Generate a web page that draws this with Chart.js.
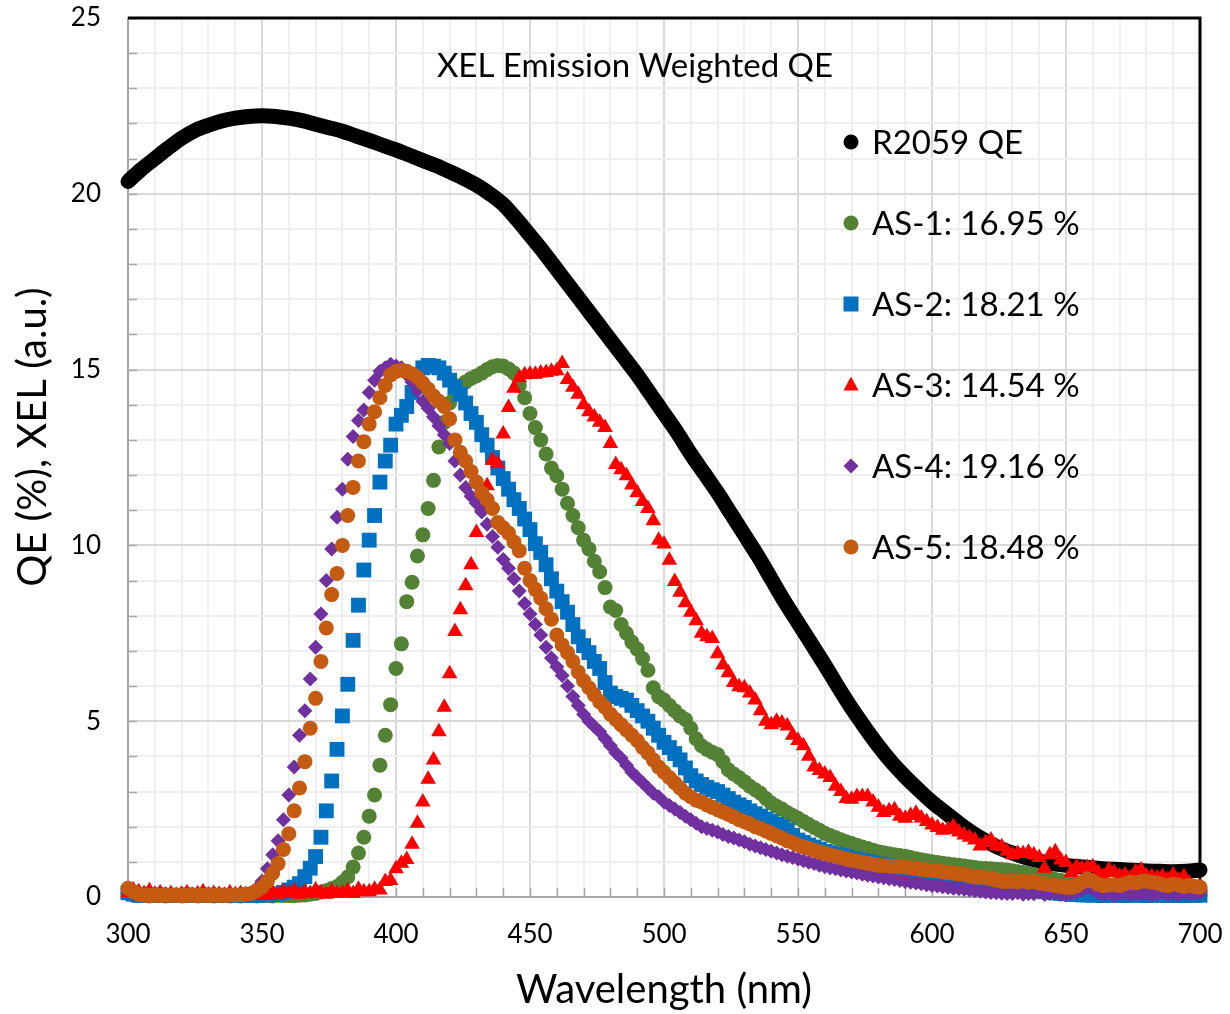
<!DOCTYPE html>
<html>
<head>
<meta charset="utf-8">
<title>XEL Emission Weighted QE</title>
<script src="https://cdn.jsdelivr.net/npm/chart.js@4.4.1/dist/chart.umd.min.js"></script>
<style>
  html, body { margin: 0; padding: 0; background: #ffffff; }
  #wrap { width: 1230px; height: 1014px; }
</style>
</head>
<body>
<div id="wrap"><canvas id="chart" width="1230" height="1014"></canvas></div>
<script>
// sampling grids (nm)
const qeWavelengths = Array.from({ length: 81 }, (_, i) => 300 + 5 * i);
const wavelengths = Array.from({ length: 201 }, (_, i) => 300 + 2 * i);

// R2059 QE (%), every 5 nm
const r2059QE = [
  20.35, 20.7, 21.0, 21.3, 21.58, 21.8, 21.95, 22.07, 22.15, 22.2,
  22.22, 22.2, 22.15, 22.08, 21.98, 21.88, 21.78, 21.65, 21.52, 21.38,
  21.25, 21.1, 20.95, 20.8, 20.63, 20.45, 20.25, 20.0, 19.7, 19.28,
  18.82, 18.35, 17.85, 17.35, 16.85, 16.35, 15.85, 15.35, 14.85, 14.3,
  13.75, 13.2, 12.6, 12.05, 11.5, 10.9, 10.3, 9.7, 9.05, 8.4,
  7.8, 7.2, 6.6, 5.97, 5.37, 4.82, 4.3, 3.83, 3.42, 3.05,
  2.7, 2.4, 2.1, 1.83, 1.6, 1.4, 1.25, 1.12, 1.02, 0.95,
  0.9, 0.86, 0.83, 0.8, 0.78, 0.76, 0.74, 0.73, 0.72, 0.73,
  0.77
];

// XEL emission (a.u.), every 2 nm, one row = 20 nm
const as1 = [
  0.1, 0.06, 0.04, 0.05, 0.03, 0.04, 0.05, 0.03, 0.04, 0.04,
  0.03, 0.05, 0.04, 0.03, 0.04, 0.05, 0.03, 0.04, 0.04, 0.03,
  0.04, 0.03, 0.05, 0.04, 0.03, 0.04, 0.04, 0.03, 0.05, 0.04,
  0.04, 0.04, 0.05, 0.06, 0.08, 0.1, 0.14, 0.18, 0.24, 0.3,
  0.42, 0.57, 0.85, 1.25, 1.7, 2.3, 2.9, 3.75, 4.6, 5.47,
  6.5, 7.2, 8.4, 8.95, 9.7, 10.3, 11.05, 11.85, 12.8, 13.5,
  14.05, 14.3, 14.55, 14.65, 14.75, 14.82, 14.9, 15.0, 15.08, 15.12,
  15.1, 15.02, 14.9, 14.55, 14.2, 13.75, 13.35, 13.0, 12.6, 12.2,
  11.98, 11.6, 11.2, 10.85, 10.5, 10.15, 9.9, 9.55, 9.25, 8.8,
  8.25, 8.15, 7.75, 7.5, 7.25, 7.05, 6.78, 6.45, 5.95, 5.7,
  5.6, 5.45, 5.3, 5.15, 5.05, 4.8, 4.5, 4.3, 4.2, 4.12,
  4.05, 3.85, 3.62, 3.5, 3.4, 3.28, 3.15, 3.05, 2.95, 2.8,
  2.67, 2.58, 2.5, 2.4, 2.32, 2.24, 2.15, 2.06, 1.98, 1.9,
  1.81, 1.75, 1.69, 1.63, 1.57, 1.52, 1.47, 1.42, 1.38, 1.33,
  1.29, 1.26, 1.23, 1.2, 1.18, 1.16, 1.12, 1.09, 1.06, 1.03,
  1.0, 0.98, 0.96, 0.94, 0.92, 0.9, 0.88, 0.86, 0.84, 0.82,
  0.81, 0.8, 0.79, 0.78, 0.77, 0.75, 0.72, 0.7, 0.67, 0.64,
  0.6, 0.57, 0.53, 0.5, 0.47, 0.44, 0.41, 0.38, 0.35, 0.32,
  0.3, 0.27, 0.25, 0.23, 0.21, 0.2, 0.18, 0.16, 0.15, 0.13,
  0.12, 0.11, 0.1, 0.09, 0.08, 0.08, 0.07, 0.06, 0.06, 0.05,
  0.05
];

const as2 = [
  0.12, 0.08, 0.05, 0.06, 0.04, 0.05, 0.06, 0.04, 0.05, 0.05,
  0.04, 0.06, 0.05, 0.04, 0.05, 0.06, 0.04, 0.05, 0.05, 0.04,
  0.05, 0.04, 0.06, 0.05, 0.05, 0.06, 0.06, 0.07, 0.09, 0.13,
  0.2, 0.28, 0.38, 0.58, 0.82, 1.15, 1.7, 2.45, 3.3, 4.2,
  5.15, 6.05, 7.3, 8.3, 9.3, 10.15, 10.85, 11.8, 12.4, 12.85,
  13.45, 13.7, 13.95, 14.35, 14.85, 15.05, 15.12, 15.1, 15.05, 14.9,
  14.7, 14.5, 14.3, 14.05, 13.75, 13.5, 13.15, 12.85, 12.5, 12.2,
  11.9, 11.6, 11.3, 11.05, 10.75, 10.45, 10.05, 9.8, 9.45, 9.05,
  8.7, 8.4, 8.1, 7.75, 7.4, 7.15, 6.95, 6.7, 6.5, 6.1,
  5.8, 5.7, 5.65, 5.6, 5.45, 5.3, 5.15, 5.0, 4.8, 4.6,
  4.4, 4.25, 4.08, 3.9, 3.67, 3.45, 3.3, 3.2, 3.12, 3.05,
  3.0, 2.9, 2.8, 2.7, 2.62, 2.55, 2.45, 2.37, 2.3, 2.22,
  2.15, 2.07, 2.0, 1.9, 1.75, 1.62, 1.55, 1.48, 1.42, 1.36,
  1.3, 1.26, 1.22, 1.18, 1.14, 1.1, 1.07, 1.04, 1.0, 0.97,
  0.94, 0.91, 0.88, 0.85, 0.82, 0.79, 0.76, 0.73, 0.7, 0.67,
  0.64, 0.61, 0.58, 0.55, 0.52, 0.49, 0.46, 0.43, 0.4, 0.38,
  0.36, 0.34, 0.32, 0.3, 0.28, 0.26, 0.24, 0.22, 0.2, 0.18,
  0.17, 0.15, 0.13, 0.12, 0.1, 0.09, 0.08, 0.07, 0.06, 0.06,
  0.05, 0.06, 0.04, 0.05, 0.06, 0.05, 0.04, 0.05, 0.06, 0.05,
  0.04, 0.05, 0.06, 0.05, 0.04, 0.05, 0.05, 0.04, 0.06, 0.05,
  0.05
];

const as3 = [
  0.12, 0.2, 0.15, 0.1, 0.18, 0.08, 0.12, 0.06, 0.1, 0.05,
  0.08, 0.12, 0.05, 0.09, 0.15, 0.06, 0.1, 0.08, 0.05, 0.12,
  0.07, 0.1, 0.05, 0.08, 0.06, 0.1, 0.05, 0.12, 0.08, 0.15,
  0.1, 0.18, 0.08, 0.14, 0.1, 0.2, 0.12, 0.08, 0.16, 0.1,
  0.12, 0.18, 0.1, 0.22, 0.15, 0.15, 0.22, 0.2, 0.44, 0.47,
  0.8, 0.96, 1.07, 1.5, 2.1, 2.7, 3.35, 3.9, 4.7, 5.4,
  6.35, 7.55, 8.17, 8.85, 9.45, 10.37, 11.1, 11.7, 12.42, 12.32,
  13.17, 13.92, 14.47, 14.77, 14.85, 14.87, 14.87, 14.9, 14.92, 14.95,
  14.97, 15.17, 14.72, 14.5, 14.3, 14.0, 13.8, 13.65, 13.5, 13.35,
  12.9, 12.3, 12.15, 11.98, 11.72, 11.5, 11.25, 11.05, 10.7, 10.15,
  10.04, 9.58, 8.97, 8.67, 8.37, 8.1, 7.86, 7.5, 7.4, 7.35,
  6.92, 6.6, 6.38, 6.1, 5.98, 5.95, 5.8, 5.6, 5.3, 5.0,
  4.9, 5.0, 4.95, 4.86, 4.6, 4.45, 4.3, 4.0, 3.7, 3.6,
  3.5, 3.4, 3.15, 3.0, 2.8, 2.78, 2.86, 2.86, 2.86, 2.7,
  2.55, 2.4, 2.45, 2.48, 2.3, 2.24, 2.32, 2.38, 2.25, 2.15,
  2.05, 1.98, 1.9, 1.92, 2.0, 1.85, 1.76, 1.7, 1.62, 1.45,
  1.55, 1.62, 1.45, 1.43, 1.3, 1.2, 1.24, 1.24, 1.27, 1.2,
  1.12, 0.82, 1.2, 1.29, 1.05, 0.98, 0.7, 0.86, 0.8, 0.84,
  0.86, 0.7, 0.58, 0.77, 0.7, 0.6, 0.63, 0.55, 0.72, 0.77,
  0.6, 0.58, 0.55, 0.58, 0.5, 0.63, 0.48, 0.58, 0.4, 0.2,
  0.3
];

const as4 = [
  0.2, 0.1, 0.06, 0.05, 0.04, 0.06, 0.05, 0.04, 0.05, 0.06,
  0.04, 0.05, 0.06, 0.04, 0.05, 0.05, 0.04, 0.06, 0.05, 0.06,
  0.07, 0.08, 0.1, 0.12, 0.25, 0.45, 0.8, 1.2, 1.6, 2.2,
  2.9, 3.7, 4.6, 5.3, 6.2, 7.1, 8.05, 9.0, 9.9, 10.8,
  11.6, 12.45, 13.1, 13.55, 13.85, 14.35, 14.7, 14.95, 15.05, 15.15,
  15.1, 15.05, 14.85, 14.65, 14.4, 14.1, 13.9, 13.65, 13.4, 13.15,
  12.9, 12.4, 12.0, 11.65, 11.4, 11.2, 10.95, 10.6, 10.25, 9.95,
  9.6, 9.35, 9.05, 8.7, 8.35, 8.05, 7.75, 7.45, 7.1, 6.8,
  6.55, 6.3, 6.0, 5.7, 5.45, 5.2, 5.0, 4.85, 4.7, 4.5,
  4.3, 4.1, 3.95, 3.75, 3.55, 3.4, 3.25, 3.1, 2.95, 2.85,
  2.7, 2.6, 2.5, 2.4, 2.3, 2.2, 2.1, 2.0, 1.95, 1.9,
  1.85, 1.78, 1.72, 1.68, 1.62, 1.57, 1.5, 1.45, 1.4, 1.35,
  1.3, 1.25, 1.2, 1.16, 1.12, 1.08, 1.03, 0.99, 0.95, 0.9,
  0.86, 0.83, 0.8, 0.77, 0.74, 0.71, 0.68, 0.65, 0.62, 0.6,
  0.57, 0.55, 0.52, 0.5, 0.47, 0.44, 0.42, 0.4, 0.38, 0.35,
  0.33, 0.31, 0.29, 0.27, 0.25, 0.24, 0.22, 0.2, 0.18, 0.16,
  0.14, 0.13, 0.12, 0.11, 0.1, 0.1, 0.12, 0.08, 0.1, 0.09,
  0.14, 0.07, 0.1, 0.12, 0.08, 0.06, 0.1, 0.15, 0.2, 0.3,
  0.22, 0.12, 0.08, 0.1, 0.06, 0.09, 0.12, 0.07, 0.1, 0.08,
  0.11, 0.06, 0.09, 0.12, 0.08, 0.1, 0.07, 0.13, 0.09, 0.1,
  0.12
];

const as5 = [
  0.25, 0.15, 0.08, 0.05, 0.04, 0.05, 0.04, 0.05, 0.04, 0.05,
  0.04, 0.05, 0.05, 0.04, 0.05, 0.04, 0.05, 0.05, 0.04, 0.05,
  0.05, 0.06, 0.08, 0.1, 0.18, 0.28, 0.45, 0.68, 0.95, 1.35,
  1.8, 2.45, 3.1, 3.85, 4.8, 5.65, 6.7, 7.65, 8.6, 9.2,
  10.0, 10.85, 11.65, 12.4, 12.95, 13.45, 13.8, 14.2, 14.55, 14.85,
  14.95, 14.98, 14.95, 14.88, 14.78, 14.62, 14.45, 14.25, 14.1, 13.95,
  13.6, 13.0, 12.65, 12.4, 12.1, 11.8, 11.5, 11.3, 11.05, 10.65,
  10.5, 10.35, 10.1, 9.85, 9.35, 9.0, 8.75, 8.5, 8.2, 7.9,
  7.45, 7.17, 6.95, 6.7, 6.4, 6.15, 5.95, 5.75, 5.55, 5.4,
  5.2, 5.05, 4.9, 4.75, 4.6, 4.45, 4.25, 4.1, 3.9, 3.7,
  3.55, 3.4, 3.25, 3.1, 2.95, 2.85, 2.75, 2.7, 2.62, 2.55,
  2.48, 2.42, 2.35, 2.28, 2.2, 2.14, 2.08, 2.0, 1.95, 1.88,
  1.81, 1.74, 1.68, 1.6, 1.55, 1.48, 1.43, 1.38, 1.33, 1.28,
  1.24, 1.2, 1.16, 1.12, 1.08, 1.05, 1.02, 0.99, 0.96, 0.93,
  0.9, 0.89, 0.88, 0.87, 0.86, 0.85, 0.83, 0.81, 0.79, 0.77,
  0.76, 0.74, 0.72, 0.7, 0.68, 0.66, 0.64, 0.6, 0.57, 0.56,
  0.55, 0.52, 0.48, 0.45, 0.44, 0.45, 0.43, 0.46, 0.42, 0.44,
  0.4, 0.38, 0.35, 0.33, 0.3, 0.28, 0.27, 0.32, 0.42, 0.52,
  0.45, 0.36, 0.32, 0.34, 0.35, 0.33, 0.38, 0.42, 0.4, 0.44,
  0.45, 0.42, 0.4, 0.35, 0.32, 0.36, 0.34, 0.3, 0.33, 0.3,
  0.28
];

const seriesLabels = ["R2059 QE", "AS-1: 16.95 %", "AS-2: 18.21 %", "AS-3: 14.54 %", "AS-4: 19.16 %", "AS-5: 18.48 %"];
const seriesColors = ["#000000", "#548235", "#0070c0", "#ff0000", "#7030a0", "#c55a11"];
const xTickLabels = [300, 350, 400, 450, 500, 550, 600, 650, 700];
const yTickLabels = [0, 5, 10, 15, 20, 25];

const FONT = "Lato, 'Open Sans', sans-serif";
const MAJOR_GRID = "#d9d9d9";
const MINOR_GRID = "#efefef";
const AXIS_GRAY = "#a6a6a6";

function toPoints(xs, ys) {
  return xs.map((x, i) => ({ x: x, y: ys[i] }));
}

function markerSet(i, style, radius) {
  return {
    label: seriesLabels[i],
    data: toPoints(wavelengths, [as1, as2, as3, as4, as5][i - 1]),
    showLine: false,
    pointStyle: style,
    pointRadius: radius,
    pointHoverRadius: radius,
    backgroundColor: seriesColors[i],
    borderColor: seriesColors[i],
    pointBorderWidth: 0,
    clip: false,
    order: 6 - i,
  };
}

// legend marker, same shape as the dataset points
function drawMarker(ctx, style, x, y, color) {
  ctx.fillStyle = color;
  ctx.beginPath();
  if (style === "rect") {
    ctx.rect(x - 7.5, y - 7.5, 15, 15);
  } else if (style === "triangle") {
    ctx.moveTo(x, y - 8.5);
    ctx.lineTo(x + 7.5, y + 5.5);
    ctx.lineTo(x - 7.5, y + 5.5);
    ctx.closePath();
  } else if (style === "rectRot") {
    ctx.moveTo(x, y - 7.5);
    ctx.lineTo(x + 7.5, y);
    ctx.lineTo(x, y + 7.5);
    ctx.lineTo(x - 7.5, y);
    ctx.closePath();
  } else {
    ctx.arc(x, y, 7.5, 0, Math.PI * 2);
  }
  ctx.fill();
}

// keep the plot box where the reference has it
function fixBox(size) {
  return (s) => {
    if (s.isHorizontal()) s.height = size; else s.width = size;
    s.paddingTop = 0;
    s.paddingBottom = 0;
    s.paddingLeft = 0;
    s.paddingRight = 0;
  };
}

const frameAndTicks = {
  id: "frameAndTicks",
  beforeDatasetsDraw(chart) {
    const { ctx, chartArea: a, scales: { x, y } } = chart;
    ctx.save();
    // short inside tick marks on the left and bottom axes
    ctx.strokeStyle = AXIS_GRAY;
    ctx.lineWidth = 1.5;
    ctx.beginPath();
    x.ticks.forEach((t) => {
      const px = Math.round(x.getPixelForValue(t.value)) + 0.5;
      ctx.moveTo(px, a.bottom);
      ctx.lineTo(px, a.bottom - 9);
    });
    y.ticks.forEach((t) => {
      const py = Math.round(y.getPixelForValue(t.value)) + 0.5;
      ctx.moveTo(a.left, py);
      ctx.lineTo(a.left + 9, py);
    });
    ctx.stroke();
    // black frame on the top and right
    ctx.strokeStyle = "#000000";
    ctx.lineWidth = 3;
    ctx.beginPath();
    ctx.moveTo(a.left, a.top);
    ctx.lineTo(a.right, a.top);
    ctx.lineTo(a.right, a.bottom);
    ctx.stroke();
    ctx.restore();
  },
  afterDraw(chart) {
    const { ctx } = chart;
    ctx.save();
    ctx.fillStyle = "#000000";
    ctx.textBaseline = "middle";

    // chart title
    ctx.font = "33px " + FONT;
    ctx.textAlign = "center";
    ctx.fillText("XEL Emission Weighted QE", 635, 66);

    // legend inside the plot
    const styles = ["circle", "circle", "rect", "triangle", "rectRot", "circle"];
    ctx.textAlign = "left";
    seriesLabels.forEach((label, i) => {
      const ly = 142 + i * 81;
      drawMarker(ctx, styles[i], 851, ly, seriesColors[i]);
      ctx.fillStyle = "#000000";
      ctx.fillText(label, 872, ly + 1);
    });

    // y axis title
    ctx.translate(33, 437);
    ctx.rotate(-Math.PI / 2);
    ctx.textAlign = "center";
    ctx.font = "40px " + FONT;
    ctx.fillText("QE (%), XEL (a.u.)", 0, 0);
    ctx.restore();
  },
};

const ctx = document.getElementById("chart").getContext("2d");
new Chart(ctx, {
  type: "scatter",
  data: {
    datasets: [
      {
        label: seriesLabels[0],
        data: toPoints(qeWavelengths, r2059QE),
        showLine: true,
        borderColor: seriesColors[0],
        backgroundColor: seriesColors[0],
        borderWidth: 15,
        borderCapStyle: "round",
        borderJoinStyle: "round",
        cubicInterpolationMode: "monotone",
        pointRadius: 0,
        clip: false,
        order: 6,
      },
      markerSet(1, "circle", 7.5),
      markerSet(2, "rect", 10.5),
      markerSet(3, "triangle", 9),
      markerSet(4, "rectRot", 7.5),
      markerSet(5, "circle", 7.5),
    ],
  },
  options: {
    responsive: false,
    animation: false,
    devicePixelRatio: 1,
    layout: { padding: { left: 0, right: 30, top: 18, bottom: 0 } },
    plugins: {
      legend: { display: false },
      tooltip: { enabled: false },
    },
    scales: {
      x: {
        type: "linear",
        min: 300,
        max: 700,
        afterFit: fixBox(117),
        ticks: {
          stepSize: 10,
          autoSkip: false,
          maxRotation: 0,
          padding: 22,
          color: "#000000",
          font: { family: FONT, size: 26 },
          callback: (v) => (xTickLabels.includes(v) ? String(v) : ""),
        },
        grid: {
          drawTicks: false,
          color: (c) => (c.tick && c.tick.value % 50 === 0 ? MAJOR_GRID : MINOR_GRID),
          lineWidth: 2,
        },
        border: { display: true, color: AXIS_GRAY, width: 2 },
        title: {
          display: true,
          text: "Wavelength (nm)",
          color: "#000000",
          font: { family: FONT, size: 40 },
          padding: { top: 0, bottom: 0 },
        },
      },
      y: {
        type: "linear",
        min: 0,
        max: 25,
        afterFit: fixBox(128),
        ticks: {
          stepSize: 1,
          autoSkip: false,
          padding: 27,
          color: "#000000",
          font: { family: FONT, size: 26 },
          callback: (v) => (yTickLabels.includes(v) ? String(v) : ""),
        },
        grid: {
          drawTicks: false,
          color: (c) => (c.tick && c.tick.value % 5 === 0 ? MAJOR_GRID : MINOR_GRID),
          lineWidth: 2,
        },
        border: { display: true, color: AXIS_GRAY, width: 2 },
      },
    },
  },
  plugins: [frameAndTicks],
});
</script>
</body>
</html>
